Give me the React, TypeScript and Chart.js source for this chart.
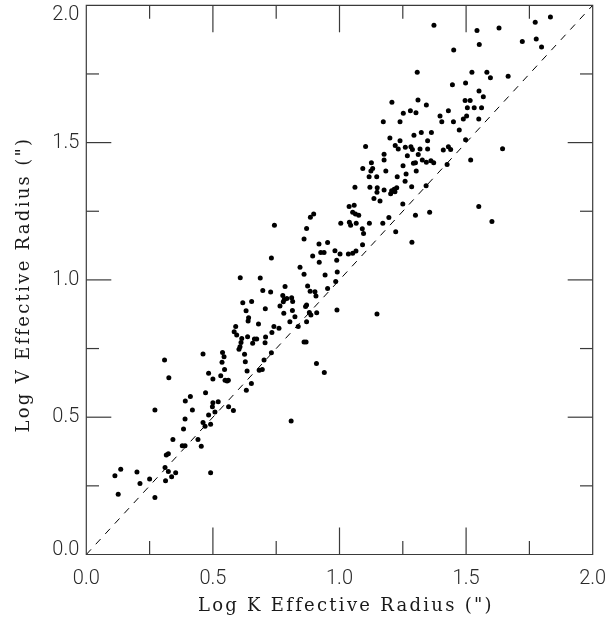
import React, { useEffect, useRef } from "react";
import { Chart, registerables } from "chart.js";

Chart.register(...registerables);

// Log K effective radius (x) and Log V effective radius (y)
const logK: number[] = [
  0.461, 0.538, 0.544, 0.309, 0.536, 0.546, 0.483, 0.531, 0.500, 0.326,
  0.548, 0.561, 0.556, 0.471, 0.411, 0.391, 0.500, 0.498, 0.521, 0.562,
  0.508, 0.271, 0.419, 0.483, 0.390, 0.461, 0.469, 0.491, 0.384, 0.342,
  0.441, 0.379, 0.390, 0.454, 0.324, 0.316, 0.311, 0.324, 0.353, 0.337,
  0.313, 0.491, 0.113, 0.136, 0.200, 0.250, 0.212, 0.126, 0.271,
  0.953, 0.919, 0.926, 0.939, 0.920, 0.894, 0.898, 0.885, 0.870, 0.860,
  0.743, 0.731, 0.844, 0.860, 0.943, 0.953, 0.874, 0.884, 0.903, 0.907,
  0.785, 0.608, 0.687, 0.697, 0.728, 0.618, 0.653, 0.631, 0.641, 0.639,
  0.707, 0.680, 0.776, 0.782, 0.792, 0.778, 0.811, 0.815, 0.765, 0.814,
  0.780, 0.824, 0.804, 0.870, 0.866, 0.881, 0.910, 0.887, 0.870, 0.837,
  0.990, 1.148, 0.590, 0.584, 0.594, 0.614, 0.637, 0.664, 0.673, 0.657,
  0.611, 0.607, 0.603, 0.741, 0.761, 0.733, 0.708, 0.706, 0.625, 0.628,
  0.731, 0.702, 0.695, 0.683, 0.635, 0.860, 0.868, 0.909, 0.940, 0.652,
  0.632, 0.581, 0.809,
  1.207, 1.310, 1.343, 1.280, 1.302, 1.252, 1.173, 1.239, 1.397, 1.430,
  1.404, 1.450, 1.496, 1.516, 1.505, 1.532, 1.561, 1.502, 1.489, 1.550,
  1.473, 1.199, 1.103, 1.239, 1.294, 1.323, 1.363, 1.348, 1.220, 1.232,
  1.260, 1.282, 1.288, 1.318, 1.348, 1.311, 1.268, 1.176, 1.176, 1.126,
  1.131, 1.092, 1.124, 1.183, 1.251, 1.292, 1.300, 1.327, 1.343, 1.361,
  1.372, 1.303, 1.410, 1.430, 1.439, 1.425, 1.498, 1.518, 1.644, 1.117,
  1.147, 1.228, 1.263, 1.259, 1.061, 1.120, 1.149, 1.148, 1.176, 1.206,
  1.216, 1.226, 1.202, 1.219, 1.285, 1.342, 1.136, 1.160, 1.250, 1.038,
  1.058, 1.052, 1.063, 1.076, 1.300, 1.356, 1.195, 1.005, 1.039, 1.044,
  1.066, 1.118, 1.171, 1.090, 1.095, 1.222, 1.091, 1.286, 1.550, 1.602,
  0.982, 1.002, 1.035, 1.052, 1.065, 0.989, 0.991, 0.985,
  1.373, 1.543, 1.630, 1.773, 1.833, 1.451, 1.552, 1.722, 1.777, 1.798,
  1.307, 1.523, 1.582, 1.596, 1.666, 1.446, 1.498, 1.551, 1.568,
];

const logV: number[] = [
  0.730, 0.736, 0.720, 0.708, 0.700, 0.674, 0.660, 0.651, 0.639, 0.644,
  0.635, 0.635, 0.632, 0.589, 0.575, 0.559, 0.553, 0.538, 0.556, 0.538,
  0.519, 0.526, 0.526, 0.508, 0.493, 0.481, 0.467, 0.474, 0.457, 0.419,
  0.419, 0.396, 0.396, 0.394, 0.367, 0.362, 0.317, 0.302, 0.298, 0.283,
  0.269, 0.298, 0.287, 0.310, 0.300, 0.275, 0.259, 0.219, 0.208,
  1.136, 1.131, 1.100, 1.100, 1.064, 1.087, 1.240, 1.228, 1.187, 1.149,
  1.199, 1.080, 1.046, 1.021, 1.018, 0.969, 0.978, 0.959, 0.957, 0.941,
  0.976, 1.008, 1.007, 0.961, 0.956, 0.917, 0.921, 0.888, 0.862, 0.850,
  0.895, 0.839, 0.943, 0.929, 0.932, 0.920, 0.935, 0.921, 0.905, 0.889,
  0.879, 0.866, 0.848, 0.909, 0.903, 0.881, 0.880, 0.872, 0.848, 0.830,
  0.890, 0.876, 0.830, 0.811, 0.799, 0.787, 0.793, 0.785, 0.785, 0.769,
  0.772, 0.757, 0.747, 0.830, 0.824, 0.808, 0.792, 0.771, 0.729, 0.702,
  0.735, 0.708, 0.674, 0.671, 0.668, 0.774, 0.774, 0.696, 0.663, 0.623,
  0.598, 0.524, 0.486,
  1.647, 1.655, 1.637, 1.616, 1.609, 1.607, 1.576, 1.576, 1.597, 1.616,
  1.576, 1.576, 1.653, 1.653, 1.627, 1.627, 1.627, 1.597, 1.586, 1.586,
  1.546, 1.517, 1.486, 1.507, 1.527, 1.537, 1.537, 1.507, 1.489, 1.477,
  1.483, 1.485, 1.475, 1.477, 1.477, 1.457, 1.452, 1.458, 1.437, 1.427,
  1.406, 1.406, 1.397, 1.397, 1.416, 1.425, 1.427, 1.437, 1.428, 1.434,
  1.427, 1.397, 1.473, 1.485, 1.475, 1.420, 1.510, 1.437, 1.478, 1.376,
  1.376, 1.376, 1.386, 1.359, 1.337, 1.337, 1.336, 1.319, 1.327, 1.325,
  1.330, 1.336, 1.314, 1.321, 1.339, 1.343, 1.296, 1.287, 1.276, 1.267,
  1.272, 1.246, 1.240, 1.235, 1.235, 1.246, 1.227, 1.206, 1.210, 1.199,
  1.206, 1.206, 1.206, 1.186, 1.169, 1.175, 1.128, 1.137, 1.267, 1.213,
  1.106, 1.094, 1.094, 1.097, 1.105, 1.072, 1.029, 0.994,
  1.927, 1.908, 1.917, 1.938, 1.957, 1.837, 1.857, 1.868, 1.877, 1.848,
  1.756, 1.756, 1.756, 1.736, 1.742, 1.711, 1.717, 1.688, 1.667,
];

// one-to-one reference line
const lineX: number[] = [0, 2];
const lineY: number[] = [0, 2];

const axisMin = 0;
const axisMax = 2;
const majorStep = 0.5;
const minorStep = 0.25;

const xTitle = 'Log K Effective Radius (")';
const yTitle = 'Log V Effective Radius (")';

const W = 608;
const H = 617;
const TICK_FONT = '300 20px Roboto';
const TICK_COLOR = "#2a2a2a";

const framePlugin = {
  id: "idlFrame",
  afterDatasetsDraw(chart: any) {
    const { ctx, chartArea: a, scales } = chart;
    const xs = scales.x;
    const ys = scales.y;
    ctx.save();
    ctx.strokeStyle = "#3a3a3a";
    ctx.lineWidth = 1.2;
    ctx.beginPath();
    ctx.rect(a.left, a.top, a.right - a.left, a.bottom - a.top);
    ctx.stroke();
    const seg = (x1: number, y1: number, x2: number, y2: number) => {
      ctx.beginPath();
      ctx.moveTo(x1, y1);
      ctx.lineTo(x2, y2);
      ctx.stroke();
    };
    const n = Math.round((axisMax - axisMin) / minorStep);
    for (let i = 1; i < n; i++) {
      const v = axisMin + i * minorStep;
      const major = Math.abs(v / majorStep - Math.round(v / majorStep)) < 1e-6;
      const px = xs.getPixelForValue(v);
      const lx = major ? 27 : 13.5;
      seg(px, a.bottom, px, a.bottom - lx);
      seg(px, a.top, px, a.top + lx);
      const py = ys.getPixelForValue(v);
      const ly = major ? 25 : 12.7;
      seg(a.left, py, a.left + ly, py);
      seg(a.right, py, a.right - ly, py);
    }
    // y tick labels, kept inside the canvas like the original plot
    ctx.fillStyle = TICK_COLOR;
    ctx.font = TICK_FONT;
    ctx.textAlign = "right";
    ctx.textBaseline = "middle";
    ys.ticks.forEach((t: any) => {
      const py = ys.getPixelForValue(t.value);
      const yy = Math.min(Math.max(py, 14.5), 549.5);
      ctx.fillText(Number(t.value).toFixed(1), a.left - 7, yy);
    });
    ctx.restore();
  },
  afterDraw(chart: any) {
    const { ctx } = chart;
    const target = 293;
    ctx.save();
    ctx.fillStyle = "#1a1a1a";
    ctx.font = '18px "DejaVu Serif"';
    ctx.textAlign = "left";
    ctx.textBaseline = "alphabetic";
    const drawSpaced = (text: string, cx: number, cy: number, rot: number) => {
      (ctx as any).letterSpacing = "0px";
      const w0 = ctx.measureText(text).width;
      const sp = (target - w0) / (text.length - 1);
      (ctx as any).letterSpacing = sp + "px";
      ctx.save();
      ctx.translate(cx, cy);
      ctx.rotate(rot);
      ctx.fillText(text, -target / 2, 0);
      ctx.restore();
    };
    drawSpaced(xTitle, 344.5, 611, 0);
    drawSpaced(yTitle, 29, 286, -Math.PI / 2);
    ctx.restore();
  },
};

export default function App() {
  const ref = useRef<HTMLCanvasElement | null>(null);

  useEffect(() => {
    if (!ref.current) return;
    const points = logK.map((k, i) => ({ x: k, y: logV[i] }));
    const diag = lineX.map((x, i) => ({ x, y: lineY[i] }));
    const tickFont = { family: "Roboto", size: 20, weight: 300 as any };
    const chart = new Chart(ref.current, {
      type: "scatter",
      data: {
        datasets: [
          {
            type: "line",
            data: diag,
            borderColor: "#000",
            borderWidth: 1,
            borderDash: [7, 7],
            pointRadius: 0,
            fill: false,
          } as any,
          {
            data: points,
            backgroundColor: "#000",
            borderWidth: 0,
            pointRadius: 2.5,
          },
        ],
      },
      options: {
        animation: false,
        responsive: false,
        devicePixelRatio: 1,
        layout: { padding: { left: 0, right: 15.3, top: 5.3, bottom: 0 } },
        plugins: { legend: { display: false }, tooltip: { enabled: false } },
        scales: {
          x: {
            type: "linear",
            min: axisMin,
            max: axisMax,
            grid: { display: false, drawTicks: false },
            border: { display: false },
            ticks: {
              stepSize: majorStep,
              padding: 12,
              color: TICK_COLOR,
              font: tickFont,
              callback: (v: any) => Number(v).toFixed(1),
            },
            afterFit: (s: any) => {
              s.height = 62.5;
              s.paddingLeft = 0;
              s.paddingRight = 0;
            },
          },
          y: {
            type: "linear",
            min: axisMin,
            max: axisMax,
            grid: { display: false, drawTicks: false },
            border: { display: false },
            ticks: {
              display: false,
              stepSize: majorStep,
            },
            afterFit: (s: any) => {
              s.width = 86.3;
              s.paddingTop = 0;
              s.paddingBottom = 0;
            },
          },
        },
      },
      plugins: [framePlugin],
    });
    return () => chart.destroy();
  }, []);

  return (
    <div style={{ position: "fixed", left: 0, top: 0, width: W, height: H, background: "#fff" }}>
      <canvas ref={ref} width={W} height={H} style={{ display: "block" }} />
    </div>
  );
}
